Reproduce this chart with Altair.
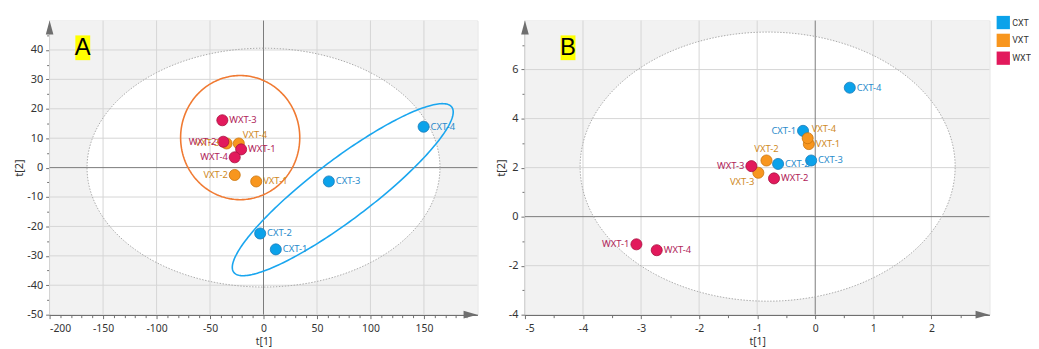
import altair as alt
import pandas as pd
import numpy as np

# ---------------- data ----------------
names = ["CXT-1", "CXT-2", "CXT-3", "CXT-4", "VXT-1", "VXT-2", "VXT-3", "VXT-4",
         "WXT-1", "WXT-2", "WXT-3", "WXT-4"]
groups = [n.split("-")[0] for n in names]

A_t1 = [11.5, -3.1, 61.1, 149.7, -6.8, -26.9, -34.5, -23.1, -20.9, -37.6, -38.5, -26.9]
A_t2 = [-27.8, -22.4, -4.7, 13.9, -4.7, -2.5, 8.2, 8.2, 6.2, 8.8, 16.1, 3.5]
A_pos = ["r", "r", "r", "r", "r", "l", "l", "ur", "r", "l", "r", "l"]

B_t1 = [-0.21, -0.64, -0.07, 0.595, -0.11, -0.84, -0.98, -0.13, -3.08, -0.71, -1.10, -2.73]
B_t2 = [3.50, 2.15, 2.29, 5.26, 2.96, 2.29, 1.79, 3.20, -1.13, 1.56, 2.06, -1.37]
B_pos = ["l", "r", "r", "r", "r", "u", "dl", "ur", "l", "r", "l", "r"]

group_names = ["CXT", "VXT", "WXT"]
fill_colors = ["#0ba2ea", "#f8961e", "#e2195c"]
stroke_colors = ["#1b7ab8", "#c8740c", "#a8123f"]
label_colors = ["#2a8bcb", "#cf8a1f", "#b02459"]

# ellipse parameters (centre, semi-axis vectors) in data units
hot_A = (0.0, 0.0, 165.0, 40.6)
hot_B = (-0.82, 2.04, 3.23, 5.49)
orange_A = (-21.8, 10.2, 55.7, 0.0, 0.0, 21.1)
blue_A = (74.1, -7.5, 101.9, 28.1, 16.8, -8.1)

A_xticks = list(range(-200, 200, 10))
A_yticks = list(range(-50, 50, 5))
A_xgrid = [-200, -150, -100, -50, 50, 100, 150]
A_ygrid = [-40, -30, -20, -10, 10, 20, 30, 40]

B_xticks = [i * 0.5 for i in range(-10, 6)]
B_yticks = list(range(-4, 8))
B_xgrid = [-5, -4, -3, -2, -1, 1, 2]
B_ygrid = [-2, 2, 4, 6]

FONT = "Noto Sans"
AXC = "#6f6f6f"

cmap_stroke = dict(zip(group_names, stroke_colors))
cmap_label = dict(zip(group_names, label_colors))


def points_df(t1, t2, pos):
    return pd.DataFrame({
        "name": names, "x": t1, "y": t2, "grp": groups, "pos": pos,
        "sc": [cmap_stroke[g] for g in groups],
        "lc": [cmap_label[g] for g in groups],
    })


def ellipse_outline(cx, cy, mx, my, nx, ny, n=241):
    th = np.linspace(0, 2 * np.pi, n)
    return pd.DataFrame({
        "x": cx + mx * np.cos(th) + nx * np.sin(th),
        "y": cy + my * np.cos(th) + ny * np.sin(th),
        "i": np.arange(n),
    })


def ellipse_fill(cx, cy, a, b, n=241):
    th = np.linspace(0, np.pi, n)
    return pd.DataFrame({
        "x": cx + a * np.cos(th),
        "y": cy + b * np.sin(th),
        "y2": cy - b * np.sin(th),
    })


POS = {
    "r": dict(align="left", dx=7, dy=0),
    "l": dict(align="right", dx=-7, dy=0),
    "ur": dict(align="left", dx=4, dy=-9),
    "u": dict(align="center", dx=0, dy=-12),
    "dl": dict(align="right", dx=-4, dy=9),
}

LEGEND = alt.Legend(title=None, orient="none", legendX=956, legendY=-5,
                    symbolType="square", symbolSize=180, symbolStrokeWidth=0,
                    labelFontSize=9, labelFont="Roboto", labelColor="#333",
                    rowPadding=4, labelOffset=2, padding=0)


def panel(df, xdom, ydom, xticks, yticks, xgrid, ygrid, xmaj, ymaj, xmaxlab, ymaxlab,
          hot, outlines, letter, letter_x, w, h):
    xs = alt.Scale(domain=xdom, nice=False, zero=False)
    ys = alt.Scale(domain=ydom, nice=False, zero=False)
    xaxis = alt.Axis(
        values=xticks, title="t[1]", grid=False, labelOverlap=False,
        labelExpr=f"(datum.value % {xmaj} === 0 && datum.value <= {xmaxlab}) ? ('' + datum.value) : ''",
        tickSize={"condition": {"test": f"datum.value % {xmaj} === 0", "value": 4}, "value": 3},
        domainColor=AXC, domainWidth=1.5, tickColor=AXC, labelColor="#333",
        labelFontSize=10.5, labelFont=FONT, labelPadding=5, titleFont=FONT,
        titleFontSize=10.5, titleFontWeight="normal", titleColor="#333", titlePadding=3,
    )
    yaxis = alt.Axis(
        values=yticks, title="t[2]", grid=False, labelOverlap=False,
        labelExpr=f"(datum.value % {ymaj} === 0 && datum.value <= {ymaxlab}) ? ('' + datum.value) : ''",
        tickSize={"condition": {"test": f"datum.value % {ymaj} === 0", "value": 4}, "value": 3},
        domainColor=AXC, domainWidth=1.5, tickColor=AXC, labelColor="#333",
        labelFontSize=11, labelFont=FONT, labelPadding=3, titleFont=FONT,
        titleFontSize=11, titleFontWeight="normal", titleColor="#333", titlePadding=2,
    )

    def X(f):
        return alt.X(f, scale=xs, axis=xaxis)

    def Y(f):
        return alt.Y(f, scale=ys, axis=yaxis)

    one = pd.DataFrame({"v": [0]})
    layers = []
    # grey plot background
    layers.append(
        alt.Chart(one).mark_rect(color="#f2f2f2").encode(
            x=alt.value(0), x2=alt.value(w), y=alt.value(0), y2=alt.value(h))
    )
    hf = ellipse_fill(*hot)
    layers.append(
        alt.Chart(hf).mark_area(color="white", opacity=1).encode(
            x=X("x:Q"), y=Y("y:Q"), y2="y2:Q")
    )
    layers.append(
        alt.Chart(pd.DataFrame({"x": xgrid})).mark_rule(color="#d6d6d6", strokeWidth=1).encode(
            x=X("x:Q"))
    )
    layers.append(
        alt.Chart(pd.DataFrame({"y": ygrid})).mark_rule(color="#d6d6d6", strokeWidth=1).encode(
            y=Y("y:Q"))
    )
    layers.append(alt.Chart(pd.DataFrame({"x": [0]})).mark_rule(color="#7a7a7a", strokeWidth=1).encode(x=X("x:Q")))
    layers.append(alt.Chart(pd.DataFrame({"y": [0]})).mark_rule(color="#7a7a7a", strokeWidth=1).encode(y=Y("y:Q")))

    cx, cy, a, b = hot
    ho = ellipse_outline(cx, cy, a, 0, 0, b)
    layers.append(
        alt.Chart(ho).mark_line(color="#aaaaaa", strokeWidth=1, strokeDash=[1.5, 1.5]).encode(
            x=X("x:Q"), y=Y("y:Q"), order="i:Q")
    )
    for params, col in outlines:
        eo = ellipse_outline(*params)
        layers.append(
            alt.Chart(eo).mark_line(color=col, strokeWidth=1.6).encode(
                x=X("x:Q"), y=Y("y:Q"), order="i:Q")
        )

    layers.append(
        alt.Chart(df).mark_point(
            shape="circle", size=125, filled=False, opacity=1,
            fillOpacity=1, strokeWidth=0.8).encode(
            x=X("x:Q"), y=Y("y:Q"),
            fill=alt.Fill("grp:N", scale=alt.Scale(domain=group_names, range=fill_colors),
                          legend=LEGEND),
            stroke=alt.Stroke("sc:N", scale=None),
        )
    )
    for code, spec in POS.items():
        layers.append(
            alt.Chart(df).transform_filter(alt.datum.pos == code).mark_text(
                font=FONT, fontSize=9.5, baseline="middle", **spec).encode(
                x=X("x:Q"), y=Y("y:Q"),
                text="name:N", color=alt.Color("lc:N", scale=None))
        )

    layers.append(
        alt.Chart(pd.DataFrame({"x": [xdom[1]], "y": [ydom[0]]})).mark_point(
            shape="M1,0L-1,0.55L-1,-0.55Z", size=196, filled=True,
            color=AXC, opacity=1, xOffset=-7).encode(x=X("x:Q"), y=Y("y:Q"))
    )
    layers.append(
        alt.Chart(pd.DataFrame({"x": [xdom[0]], "y": [ydom[1]]})).mark_point(
            shape="M0,-1L0.55,1L-0.55,1Z", size=196, filled=True,
            color=AXC, opacity=1, yOffset=7).encode(x=X("x:Q"), y=Y("y:Q"))
    )
    layers.append(
        alt.Chart(one).mark_rect(color="#ffff00").encode(
            x=alt.value(letter_x), x2=alt.value(letter_x + 15),
            y=alt.value(15), y2=alt.value(40))
    )
    layers.append(
        alt.Chart(one).mark_text(text=letter, font="Liberation Sans", fontSize=24,
                                 color="black", align="center", baseline="middle").encode(
            x=alt.value(letter_x + 7.5), y=alt.value(28))
    )
    return alt.layer(*layers).properties(width=w, height=h)


pA = panel(points_df(A_t1, A_t2, A_pos), [-200, 200], [-50, 50], A_xticks, A_yticks,
           A_xgrid, A_ygrid, 50, 10, 150, 40, hot_A,
           [(orange_A, "#f07a32"), (blue_A, "#1aa6ef")], "A", 26, 432, 297)
pB = panel(points_df(B_t1, B_t2, B_pos), [-5, 3], [-4, 8], B_xticks, B_yticks,
           B_xgrid, B_ygrid, 1, 2, 2, 6, hot_B,
           [], "B", 36, 469, 297)

chart = alt.hconcat(pA, pB, spacing=16).resolve_scale(
    fill="shared").resolve_legend(fill="shared").properties(
    padding={"left": 5, "top": 6, "right": 0, "bottom": 0}
).configure_view(stroke=None).configure(font=FONT)

chart.save("out.html", embed_options={"renderer": "svg", "actions": False})
